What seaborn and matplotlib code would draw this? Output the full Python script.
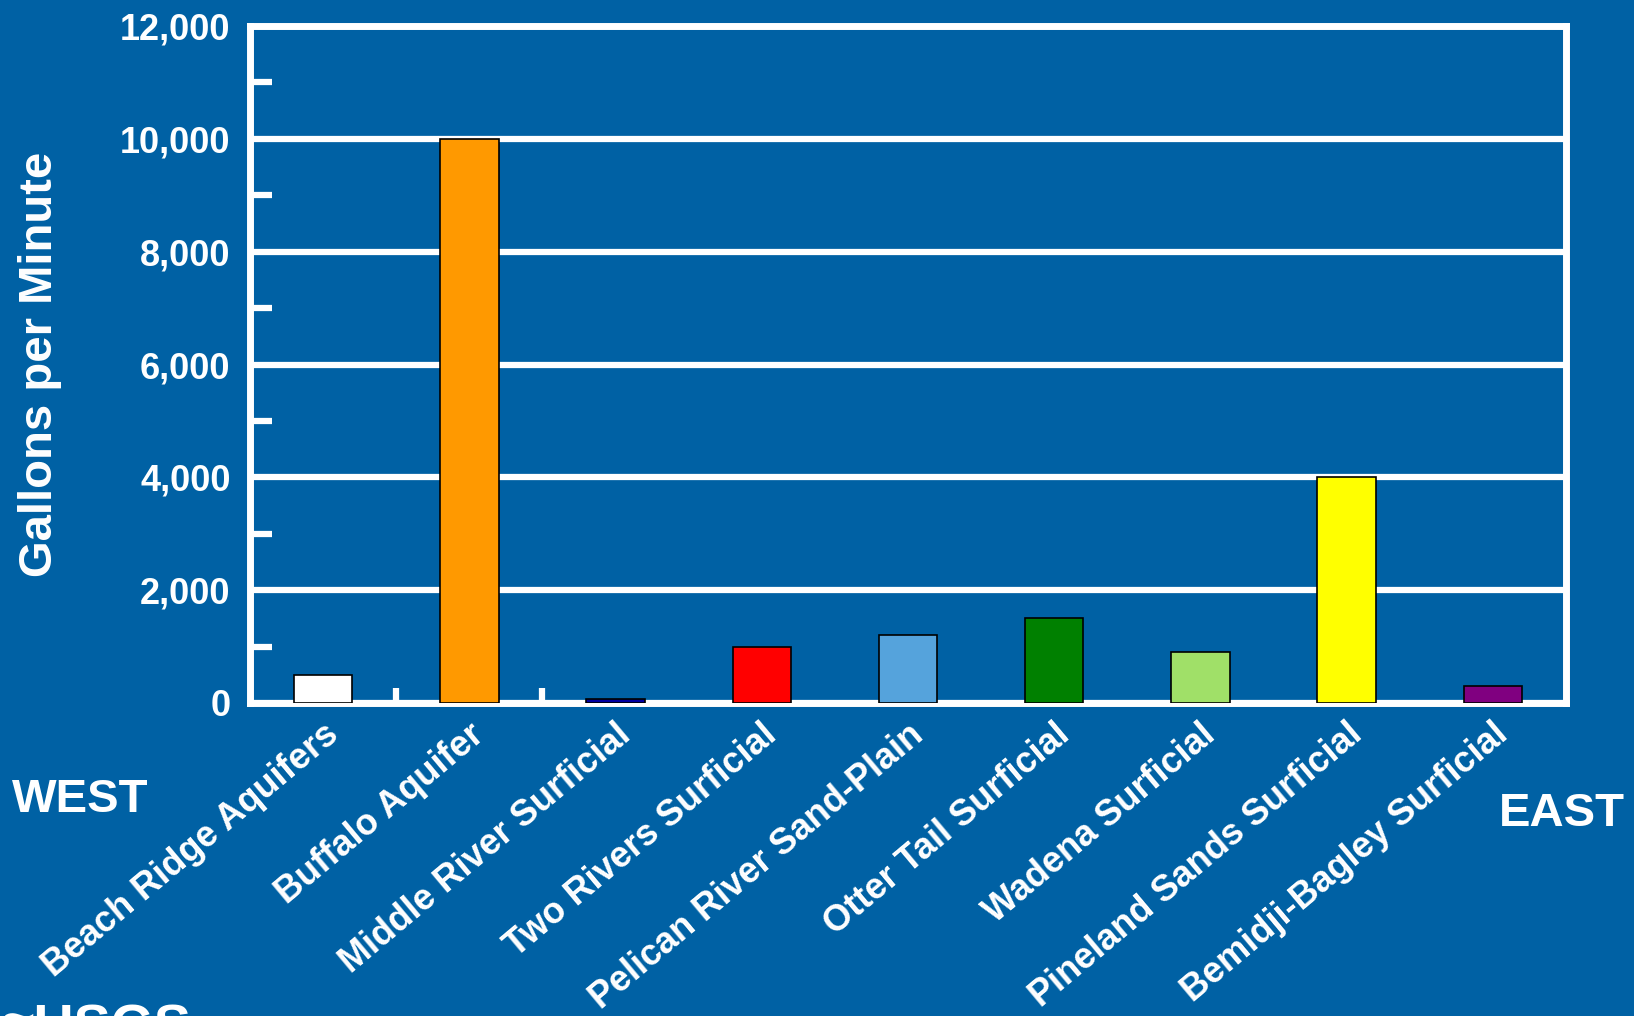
import matplotlib
matplotlib.use("Agg")
import matplotlib.pyplot as plt
import matplotlib.transforms as mtransforms
import seaborn as sns
import pandas as pd
from matplotlib.ticker import FixedLocator

categories = ["Beach Ridge Aquifers", "Buffalo Aquifer", "Middle River Surficial",
              "Two Rivers Surficial", "Pelican River Sand-Plain", "Otter Tail Surficial",
              "Wadena Surficial", "Pineland Sands Surficial", "Bemidji-Bagley Surficial"]
values = [500, 10000, 70, 1000, 1200, 1500, 900, 4000, 300]
colors = ["#FFFFFF", "#FF9900", "#0000A0", "#FF0000", "#55A3DC", "#008000",
          "#A0E068", "#FFFF00", "#800080"]
yticks = [0, 2000, 4000, 6000, 8000, 10000, 12000]
ytick_labels = ["0", "2,000", "4,000", "6,000", "8,000", "10,000", "12,000"]
minor_yticks = [1000, 3000, 5000, 7000, 9000, 11000]

BG = "#0061A4"
sns.set_theme(style="white")
plt.rcParams['font.family'] = ['Liberation Sans', 'DejaVu Sans']

fig = plt.figure(figsize=(16.34, 10.16), dpi=100, facecolor=BG)
ax = fig.add_axes([250/1634, 1 - 703/1016, (1566-250)/1634, (703-26)/1016])
ax.set_facecolor(BG)

df = pd.DataFrame({"cat": categories, "val": values})
sns.barplot(data=df, x="cat", y="val", hue="cat", palette=colors, legend=False,
            saturation=1, width=0.4, edgecolor="black", linewidth=1.2, ax=ax, zorder=5)

ax.set_xlim(-0.5, len(categories) - 0.5)
ax.set_ylim(0, 12000)
ax.set_yticks(yticks)
ax.set_yticklabels(ytick_labels)
ax.yaxis.set_minor_locator(FixedLocator(minor_yticks))
ax.grid(axis="y", color="white", linewidth=4.5, zorder=0)
ax.set_axisbelow(True)

for s in ax.spines.values():
    s.set_visible(True)
    s.set_color("white")
    s.set_linewidth(5)
    s.set_zorder(4)

ax.tick_params(axis="y", which="major", length=0, pad=14, labelsize=26,
               labelcolor="white", left=True)
ax.tick_params(axis="y", which="minor", direction="in", length=16, width=4.5,
               color="white", left=True)
for lab in ax.get_yticklabels():
    lab.set_fontweight("bold")

ax.set_xticks(range(len(categories)))
ax.set_xticklabels(categories, rotation=40, ha="right", rotation_mode="default",
                   fontsize=26, fontweight="bold", color="white")
ax.tick_params(axis="x", which="major", length=0, pad=10)
ax.xaxis.set_minor_locator(FixedLocator([0.5, 1.5]))
ax.tick_params(axis="x", which="minor", direction="in", length=11, width=4.5,
               color="white", bottom=True)
offset = mtransforms.ScaledTranslation(22/100, 0, fig.dpi_scale_trans)
for lab in ax.get_xticklabels():
    lab.set_transform(lab.get_transform() + offset)

ax.set_xlabel("")
ax.set_ylabel("Gallons per Minute", fontsize=34, fontweight="bold", color="white")
ax.yaxis.set_label_coords((62 - 250) / (1566 - 250), 0.5)

fig.text(12/1634, 1 - 800/1016, "WEST", fontsize=34, fontweight="bold", color="white",
         ha="left", va="center")
fig.text(1625/1634, 1 - 814/1016, "EAST", fontsize=34, fontweight="bold", color="white",
         ha="right", va="center")
fig.text(4/1634, -0.027, "≈USGS", fontsize=40, fontweight="bold", color="white",
         ha="left", va="baseline")

fig.savefig("out.png", dpi=100, facecolor=BG)
